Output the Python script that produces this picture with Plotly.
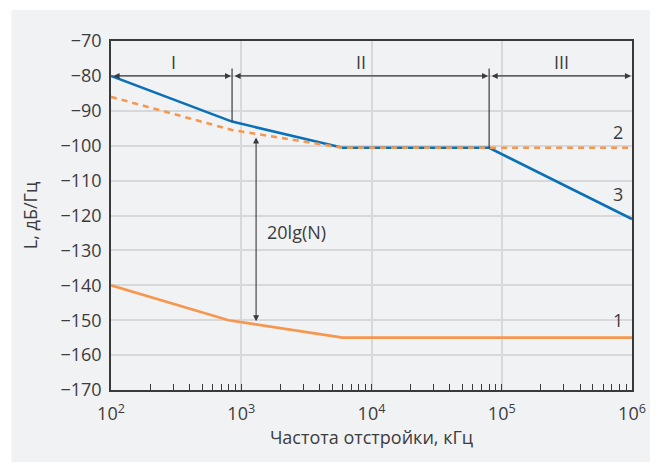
import numpy as np
import plotly.graph_objects as go

# ---- data ----
curve1_x = [100, 800, 6000, 1e6]
curve1_y = [-140, -150, -155, -155]
curve2_x = [100, 850, 6000, 1e6]
curve2_y = [-86, -95.5, -100.6, -100.6]
curve3_x = [100, 850, 6000, 80000, 1e6]
curve3_y = [-80, -93.1, -100.6, -100.6, -121]

region_bounds = [100, 850, 80000, 1e6]
region_labels = ["I", "II", "III"]
region_label_pos = [300, 8300, 287000]
sep_x = [850, 80000]
sep_y_bottom = [-93.1, -100.6]
sep_y_top = -77.9
arrow_y = -80

gain_x = 1300
gain_top = -97.2
gain_bottom = -150.3
gain_label = "20lg(N)"

curve_labels = ["1", "2", "3"]
curve_label_y = [-149.8, -96.1, -113.9]
curve_label_x = 784000

x_tickvals = [1e2, 1e3, 1e4, 1e5, 1e6]
x_ticktext = ["10<sup>2</sup>", "10<sup>3</sup>", "10<sup>4</sup>", "10<sup>5</sup>", "10<sup>6</sup>"]
y_tickvals = [-70, -80, -90, -100, -110, -120, -130, -140, -150, -160, -170]
y_ticktext = ["\u2212" + str(abs(v)) for v in y_tickvals]
minor_vals = [m * 10 ** d for d in range(2, 6) for m in range(2, 10)]

BLUE = "#0a70b8"
ORANGE = "#f6974f"
DARK = "#3a3a3a"
TXT = "#3c3c3c"
BG = "#f1f2f4"
GRID = "#d7d8db"
FONT = "Open Sans"
FS = 18

fig = go.Figure()

fig.add_trace(go.Scatter(x=curve1_x, y=curve1_y, mode="lines",
                         line=dict(color=ORANGE, width=2.6), hoverinfo="skip"))
fig.add_trace(go.Scatter(x=curve3_x, y=curve3_y, mode="lines",
                         line=dict(color=BLUE, width=2.6), hoverinfo="skip"))
fig.add_trace(go.Scatter(x=curve2_x, y=curve2_y, mode="lines",
                         line=dict(color=ORANGE, width=2.6, dash="6px,5px"), hoverinfo="skip"))

# separators
for sx, sb in zip(sep_x, sep_y_bottom):
    fig.add_trace(go.Scatter(x=[sx, sx], y=[sep_y_top, sb], mode="lines",
                             line=dict(color=DARK, width=1.2), hoverinfo="skip"))

annotations = []
# region arrows
for i in range(3):
    x0 = np.log10(region_bounds[i])
    x1 = np.log10(region_bounds[i + 1])
    annotations.append(dict(x=x1, y=arrow_y, ax=x0, ay=arrow_y, xref="x", yref="y",
                            axref="x", ayref="y", text="", showarrow=True,
                            arrowhead=2, arrowside="end+start", arrowsize=1.1,
                            arrowwidth=1.1, arrowcolor=DARK, standoff=1, startstandoff=1))
    annotations.append(dict(x=np.log10(region_label_pos[i]), y=-76.1, xref="x", yref="y",
                            text=region_labels[i], showarrow=False,
                            font=dict(size=FS, color=TXT, family=FONT)))

# 20lg(N) arrow
annotations.append(dict(x=np.log10(gain_x), y=gain_bottom, ax=np.log10(gain_x), ay=gain_top,
                        xref="x", yref="y", axref="x", ayref="y", text="", showarrow=True,
                        arrowhead=2, arrowside="end+start", arrowsize=1.1, arrowwidth=1.1,
                        arrowcolor=DARK, standoff=0, startstandoff=0))
annotations.append(dict(x=3.186, y=-124.7, xref="x", yref="y", text=gain_label,
                        showarrow=False, xanchor="left",
                        font=dict(size=FS, color=TXT, family=FONT)))

for lab, ly in zip(curve_labels, curve_label_y):
    annotations.append(dict(x=np.log10(curve_label_x), y=ly, xref="x", yref="y", text=lab,
                            showarrow=False, font=dict(size=FS, color=TXT, family=FONT)))

# page offset of 8px (body margin) compensated
OFF = 8
W, H = 658 - OFF, 462 - OFF
L, R, T, B = 111 - OFF, 24, 41 - OFF, 72
pw = W - L - R
ph = H - T - B
shapes = [dict(type="rect", xref="paper", yref="paper", layer="below",
               x0=(11 - OFF - L) / pw, x1=(W - L) / pw,
               y0=-B / ph, y1=1 + (T - (10 - OFF)) / ph,
               fillcolor=BG, line=dict(width=0))]

fig.update_layout(
    width=W, height=H,
    margin=dict(l=L, r=R, t=T, b=B),
    paper_bgcolor="white", plot_bgcolor=BG,
    showlegend=False,
    font=dict(family=FONT, size=FS, color=TXT),
    annotations=annotations, shapes=shapes,
)

fig.update_xaxes(type="log", range=[2, 6], tickvals=x_tickvals, ticktext=x_ticktext,
                 showgrid=True, gridcolor=GRID, gridwidth=1.5,
                 showline=True, linecolor=DARK, linewidth=1.6, mirror=True,
                 ticks="inside", ticklen=6, tickcolor=DARK, tickwidth=1.2,
                 minor=dict(tickvals=minor_vals, ticks="inside", ticklen=6,
                            tickcolor=DARK, tickwidth=1.2, showgrid=False),
                 ticklabelstandoff=7,
                 tickfont=dict(size=FS, color=TXT, family=FONT),
                 title=dict(text="Частота отстройки, кГц", standoff=4,
                            font=dict(size=FS, color=TXT, family=FONT)),
                 zeroline=False)
fig.update_yaxes(range=[-170, -70], tickvals=y_tickvals, ticktext=y_ticktext,
                 showgrid=True, gridcolor=GRID, gridwidth=1.5,
                 showline=True, linecolor=DARK, linewidth=1.6, mirror=True,
                 ticks="", ticklabelstandoff=4,
                 tickfont=dict(size=FS, color=TXT, family=FONT),
                 title=dict(text="L, дБ/Гц", standoff=18,
                            font=dict(size=FS, color=TXT, family=FONT)),
                 zeroline=False)

fig.write_html("out.html")
